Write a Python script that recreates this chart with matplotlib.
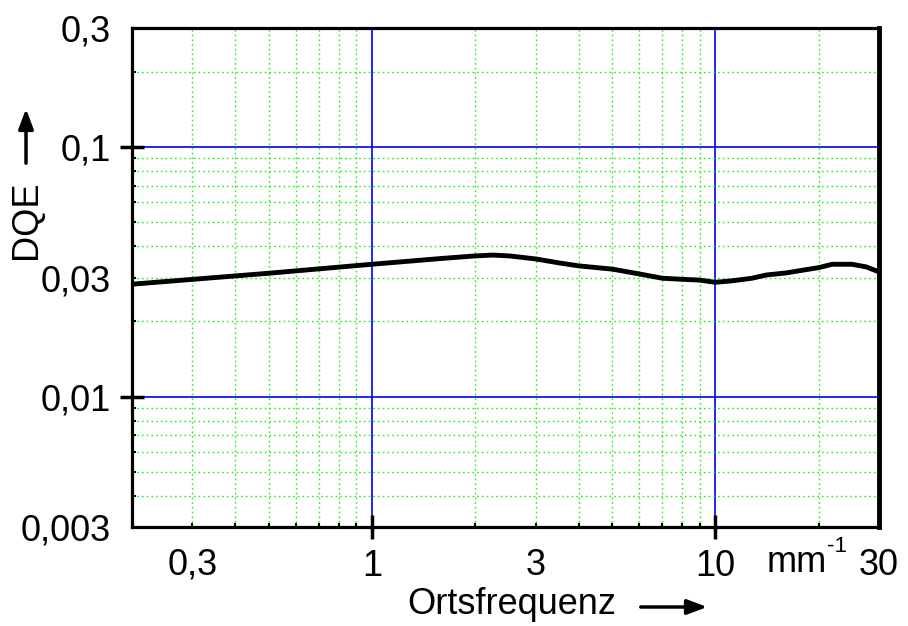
import matplotlib.pyplot as plt
from matplotlib.patches import FancyArrowPatch
from matplotlib.ticker import FixedLocator

plt.rcParams['font.family'] = ['Liberation Sans', 'DejaVu Sans']

# DQE curve, spatial frequency in mm^-1
freq = [0.2, 0.5, 1.0, 1.29, 1.61, 1.99, 2.25, 2.52, 3.0, 3.52, 4.0, 5.02,
        6.01, 7.01, 8.02, 8.98, 10.0, 11.2, 12.8, 14.1, 16.1, 20.1, 21.9,
        25.0, 27.5, 30.0]
dqe = [0.0282, 0.0312, 0.0339, 0.0349, 0.0358, 0.0366, 0.0369, 0.0366,
       0.0356, 0.0343, 0.0334, 0.0324, 0.0310, 0.0298, 0.0295, 0.0293,
       0.0287, 0.0291, 0.0298, 0.0307, 0.0313, 0.0329, 0.0339, 0.0339,
       0.0331, 0.0316]

x_major = [1, 10]
x_major_labels = ["1", "10"]
x_minor = [0.2, 0.3, 0.4, 0.5, 0.6, 0.7, 0.8, 0.9,
           2, 3, 4, 5, 6, 7, 8, 9, 20, 30]
x_minor_labels = {0.3: "0,3", 3: "3", 30: "30"}

y_major = [0.01, 0.1]
y_major_labels = ["0,01", "0,1"]
y_minor = [0.003, 0.004, 0.005, 0.006, 0.007, 0.008, 0.009,
           0.02, 0.03, 0.04, 0.05, 0.06, 0.07, 0.08, 0.09, 0.2, 0.3]
y_minor_labels = {0.003: "0,003", 0.03: "0,03", 0.3: "0,3"}

FS = 26
GREEN = "#22ee22"
BLUE = "#0000ee"

fig = plt.figure(figsize=(9.08, 6.26), dpi=100)
ax = fig.add_axes([132 / 908, 99 / 626, 747 / 908, 499 / 626])
ax.set_xscale("log")
ax.set_yscale("log")
ax.set_xlim(0.2, 30)
ax.set_ylim(0.003, 0.3)

ax.xaxis.set_major_locator(FixedLocator(x_major))
ax.xaxis.set_minor_locator(FixedLocator(x_minor))
ax.yaxis.set_major_locator(FixedLocator(y_major))
ax.yaxis.set_minor_locator(FixedLocator(y_minor))
ax.set_xticklabels(x_major_labels)
ax.set_yticklabels(y_major_labels)
ax.set_xticklabels([x_minor_labels.get(v, "") for v in x_minor], minor=True)
ax.set_yticklabels([y_minor_labels.get(v, "") for v in y_minor], minor=True)

ax.tick_params(which="major", direction="inout", length=17, width=2.5,
               labelsize=FS, pad=7)
ax.tick_params(which="minor", direction="in", length=3, width=1.5,
               labelsize=FS, pad=15)

ax.grid(which="major", color=BLUE, lw=1.2, ls="-")
ax.grid(which="minor", color=GREEN, lw=1.0, ls=(0, (1.2, 2.2)))
ax.set_axisbelow(True)

for side in ("left", "bottom", "top"):
    ax.spines[side].set_linewidth(2.3)
ax.spines["right"].set_linewidth(3.5)

ax.plot(freq, dqe, color="black", lw=3.5, solid_joinstyle="round",
        solid_capstyle="butt", zorder=5, clip_on=False)

# unit in front of the last tick label
fig.text(767 / 908, 1 - 563 / 626, "mm", ha="left", va="center", fontsize=FS)
fig.text(827 / 908, 1 - 547 / 626, "-1", ha="left", va="center",
         fontsize=FS * 0.62)

# axis titles with arrows
fig.text(407 / 908, 1 - 604 / 626, "Ortsfrequenz", ha="left", va="center",
         fontsize=FS)
fig.patches.append(FancyArrowPatch(
    (638 / 908, 1 - 607 / 626), (710 / 908, 1 - 607 / 626),
    transform=fig.transFigure, arrowstyle="-|>,head_length=12,head_width=4.5",
    mutation_scale=1, color="black", lw=2.5))

fig.text(26 / 908, 1 - 220 / 626, "DQE", rotation=90, ha="center",
         va="center", fontsize=FS)
fig.patches.append(FancyArrowPatch(
    (26 / 908, 1 - 166 / 626), (26 / 908, 1 - 106 / 626),
    transform=fig.transFigure, arrowstyle="-|>,head_length=12,head_width=4.5",
    mutation_scale=1, color="black", lw=2.5))

fig.savefig("out.png", dpi=100)
